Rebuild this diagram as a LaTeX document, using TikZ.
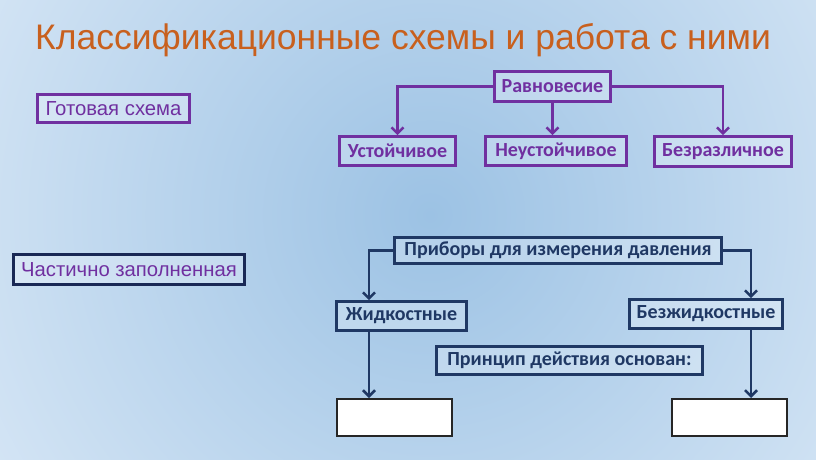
\documentclass[tikz,border=0pt]{standalone}
\usepackage{fontspec}
\setmainfont{Liberation Sans}
\newfontfamily\boxfont{Carlito}
\usetikzlibrary{arrows.meta,calc}
\definecolor{bgin}{RGB}{156,194,228}
\definecolor{bgout}{RGB}{240,246,253}
\definecolor{ttl}{RGB}{200,96,30}
\definecolor{purp}{RGB}{112,48,160}
\definecolor{navy}{RGB}{31,56,100}
\definecolor{navyb}{RGB}{25,40,85}
\tikzset{
  pbox/.style={draw=purp, line width=2.6pt, fill=white, fill opacity=0.25, text opacity=1, text=purp, inner sep=0pt, font=\boxfont\bfseries\fontsize{20}{21}\selectfont},
  nbox/.style={draw=navy, line width=2.6pt, fill=white, fill opacity=0.25, text opacity=1, text=navy, inner sep=0pt, font=\boxfont\bfseries\fontsize{20}{21}\selectfont},
  ebox/.style={draw=black!85, line width=2pt, fill=white, inner sep=0pt},
  parr/.style={draw=purp, line width=2.6pt, -{Straight Barb[length=6pt,width=12pt,line width=2.6pt]}},
  narr/.style={draw=navy, line width=2.6pt, -{Straight Barb[length=6pt,width=12pt,line width=2.6pt]}},
  lbl/.style={inner sep=0pt, text=purp, font=\fontsize{20.3}{21}\selectfont}
}
\begin{document}
\begin{tikzpicture}[x=1pt,y=-1pt]
\useasboundingbox (0,0) rectangle (816,459);
\fill[bgout] (0,0) rectangle (816,459);
\begin{scope}
\clip (0,0) rectangle (816,459);
\shade[inner color=bgin, outer color=bgout] (430,215) circle (760);
\end{scope}
\node[anchor=base west, inner sep=0pt, text=ttl, font=\fontsize{35.5}{36}\selectfont] (title) at (35,49) {Классификационные схемы и работа с ними};

\node[draw=purp, line width=2.6pt, fill=white, fill opacity=0.25, text opacity=1, lbl, minimum width=152pt, minimum height=28pt] (gotov) at (113.5,108.5) {Готовая схема};
\node[draw=navyb, line width=2.6pt, fill=white, fill opacity=0.25, text opacity=1, lbl, minimum width=231pt, minimum height=30pt] (chast) at (129,269.5) {Частично заполненная};

\node[pbox, minimum width=116pt, minimum height=30pt] (rav) at (552.5,86.5) {Равновесие};
\node[pbox, minimum width=116pt, minimum height=29pt] (ust) at (397.5,151) {Устойчивое};
\node[pbox, minimum width=141pt, minimum height=29pt] (neust) at (556,151) {Неустойчивое};
\node[pbox, minimum width=137pt, minimum height=30pt] (bezr) at (723,151.5) {Безразличное};

\draw[parr] (rav.west) -| (ust.north);
\draw[parr] (rav.south) -- (rav.south |- neust.north);
\draw[parr] (rav.east) -| (bezr.north);

\node[nbox, minimum width=327pt, minimum height=26pt] (prib) at (558,250.5) {Приборы для измерения давления};
\node[nbox, minimum width=130pt, minimum height=29pt] (zhid) at (401.5,316) {Жидкостные};
\node[nbox, minimum width=153pt, minimum height=29pt] (bezzh) at (706,314) {Безжидкостные};
\node[nbox, minimum width=266pt, minimum height=28pt] (princ) at (569.5,360.5) {Принцип действия основан:};
\node[ebox, minimum width=115pt, minimum height=37pt] (e1) at (394.5,417.5) {};
\node[ebox, minimum width=115pt, minimum height=37pt] (e2) at (729.5,417.5) {};

\draw[narr] (prib.west) -| ([xshift=-32.5pt]zhid.north);
\draw[narr] (prib.east) -| ([xshift=45pt]bezzh.north);
\draw[narr] ([xshift=-32.5pt]zhid.south) -- ([xshift=-32.5pt]zhid.south |- e1.north);
\draw[narr] ([xshift=45pt]bezzh.south) -- ([xshift=45pt]bezzh.south |- e2.north);
\end{tikzpicture}
\end{document}
